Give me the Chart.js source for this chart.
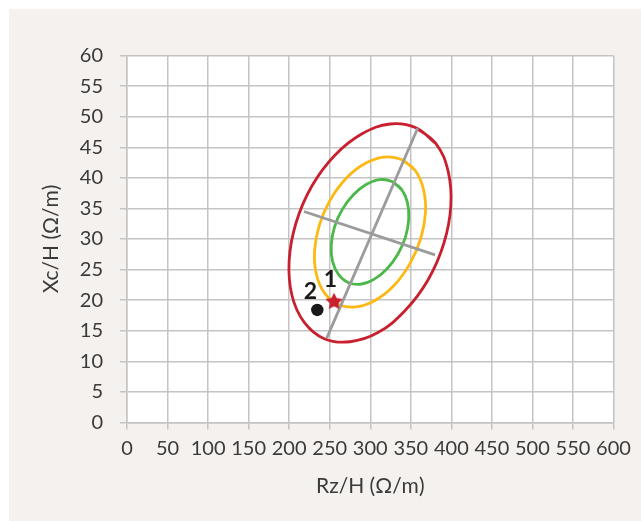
<!DOCTYPE html>
<html>
<head>
<meta charset="utf-8">
<script src="https://cdn.jsdelivr.net/npm/chart.js@4/dist/chart.umd.min.js"></script>
<style>
    html, body { margin: 0; padding: 0; background: #fff; }
    #panel { position: absolute; left: 9px; top: 9px; width: 632px; height: 512px; background: #f4f1ee; }
    canvas { display: block; }
</style>
</head>
<body>
<div id="panel"><canvas id="chart" width="632" height="512"></canvas></div>
<script>
const xTicks = [0, 50, 100, 150, 200, 250, 300, 350, 400, 450, 500, 550, 600];
const yTicks = [0, 5, 10, 15, 20, 25, 30, 35, 40, 45, 50, 55, 60];

const xTitle = 'Rz/H (Ω/m)';
const yTitle = 'Xc/H (Ω/m)';

// outer (red), middle (yellow) and inner (green) ellipses
const redEllipse = [
    [356.1, 48.2], [381.0, 45.6], [396.0, 41.1], [399.4, 35.5], [390.8, 29.3], [371.2, 23.3],
    [343.0, 18.3], [309.5, 14.7], [274.9, 13.2], [243.2, 13.7], [218.4, 16.4], [203.4, 20.8],
    [200.0, 26.5], [208.6, 32.7], [228.2, 38.7], [256.4, 43.7], [289.9, 47.2], [324.5, 48.8],
];
const yellowEllipse = [
    [338.5, 43.0], [355.5, 41.2], [365.7, 38.1], [368.1, 34.3], [362.1, 30.0], [348.6, 25.9],
    [329.3, 22.4], [306.3, 20.0], [282.6, 18.9], [260.9, 19.3], [243.9, 21.1], [233.6, 24.2],
    [231.3, 28.0], [237.3, 32.3], [250.7, 36.4], [270.1, 39.9], [293.0, 42.3], [316.8, 43.4],
];
const greenEllipse = [
    [326.7, 39.4], [338.6, 38.1], [345.8, 36.0], [347.5, 33.3], [343.4, 30.3], [334.0, 27.5],
    [320.5, 25.1], [304.5, 23.4], [287.9, 22.6], [272.7, 22.9], [260.8, 24.2], [253.6, 26.3],
    [251.9, 29.0], [256.0, 32.0], [265.4, 34.8], [278.9, 37.2], [294.9, 38.9], [311.5, 39.7],
];

const majorAxis = [[246.3, 13.8], [358.5, 48.1]];
const minorAxis = [[218.3, 34.5], [379.9, 27.4]];

const pointLabels = ['1', '2'];
const pointX = [255.3, 234.7];
const pointY = [19.9, 18.4];

const RED = '#c8202f';
const GRID = '#c4c4c4';
const TEXT = '#3a3a3a';

function toXY(pairs) {
    return pairs.map(([x, y]) => ({ x, y }));
}

// closed loop: go round once more past the start so the join stays smooth
function closedLoop(pairs) {
    return toXY([...pairs, pairs[0], pairs[1]]);
}

function makeStar(radius, color) {
    const size = Math.ceil(radius * 2 + 2);
    const c = document.createElement('canvas');
    c.width = size;
    c.height = size;
    const ctx = c.getContext('2d');
    ctx.fillStyle = color;
    ctx.beginPath();
    for (let i = 0; i < 10; i++) {
        const r = i % 2 === 0 ? radius : radius * 0.5;
        const a = -Math.PI / 2 + i * Math.PI / 5;
        const px = size / 2 + r * Math.cos(a);
        const py = size / 2 + 1 + r * Math.sin(a);
        if (i === 0) ctx.moveTo(px, py);
        else ctx.lineTo(px, py);
    }
    ctx.closePath();
    ctx.fill();
    return c;
}

function ellipseSet(pairs, color, order) {
    return {
        data: closedLoop(pairs),
        showLine: true,
        borderColor: color,
        borderWidth: 2.8,
        pointRadius: 0,
        tension: 0.4,
        fill: false,
        order,
    };
}

function lineSet(pairs, order) {
    return {
        data: toXY(pairs),
        showLine: true,
        borderColor: '#9b9b9b',
        borderWidth: 2.8,
        pointRadius: 0,
        tension: 0,
        order,
    };
}

const plotBackground = {
    id: 'plotBackground',
    beforeDraw(chart) {
        const { ctx, chartArea: a } = chart;
        ctx.save();
        ctx.fillStyle = '#fff';
        ctx.fillRect(a.left, a.top, a.right - a.left, a.bottom - a.top);
        ctx.restore();
    },
};

const labelOffsets = [[-3.5, -21], [-7, -18]];

const pointLabelPlugin = {
    id: 'pointLabelPlugin',
    afterDatasetsDraw(chart) {
        const { ctx, scales } = chart;
        ctx.save();
        ctx.font = 'bold 23px Lato';
        ctx.fillStyle = '#1a1a1a';
        ctx.textAlign = 'center';
        ctx.textBaseline = 'middle';
        pointLabels.forEach((label, i) => {
            const px = scales.x.getPixelForValue(pointX[i]) + labelOffsets[i][0];
            const py = scales.y.getPixelForValue(pointY[i]) + labelOffsets[i][1];
            ctx.fillText(label, px, py);
        });
        ctx.restore();
    },
};

const tickFont = { family: 'Lato', size: 20 };
const titleFont = { family: 'Lato', size: 21 };

new Chart(document.getElementById('chart').getContext('2d'), {
    type: 'scatter',
    data: {
        datasets: [
            {
                data: [{ x: pointX[0], y: pointY[0] }],
                pointStyle: makeStar(9, RED),
                pointRadius: 9,
                order: 0,
            },
            {
                data: [{ x: pointX[1], y: pointY[1] }],
                pointStyle: 'circle',
                pointRadius: 6.2,
                backgroundColor: '#1a1a1a',
                borderColor: '#1a1a1a',
                borderWidth: 0,
                order: 0,
            },
            lineSet(majorAxis, 1),
            lineSet(minorAxis, 1),
            ellipseSet(greenEllipse, '#4bb849', 2),
            ellipseSet(yellowEllipse, '#fdb913', 3),
            ellipseSet(redEllipse, RED, 4),
        ],
    },
    options: {
        responsive: false,
        animation: false,
        events: [],
        layout: { padding: { top: 46.5, right: 27.5, bottom: 0, left: 0 } },
        plugins: { legend: { display: false }, tooltip: { enabled: false } },
        scales: {
            x: {
                type: 'linear',
                min: 0,
                max: 600,
                afterBuildTicks(axis) {
                    axis.ticks = xTicks.map((value) => ({ value }));
                },
                afterFit(axis) {
                    axis.height = 98.5;
                },
                grid: { color: GRID, lineWidth: 1.5, tickLength: 7, tickColor: GRID },
                border: { color: GRID, width: 1.5 },
                ticks: { font: tickFont, color: TEXT, padding: 7, autoSkip: false, maxRotation: 0 },
                title: { display: true, text: xTitle, font: titleFont, color: TEXT, padding: { top: 0, bottom: 22 } },
            },
            y: {
                type: 'linear',
                min: 0,
                max: 60,
                afterBuildTicks(axis) {
                    axis.ticks = yTicks.map((value) => ({ value }));
                },
                afterFit(axis) {
                    axis.width = 118;
                },
                grid: { color: GRID, lineWidth: 1.5, tickLength: 7, tickColor: GRID },
                border: { color: GRID, width: 1.5 },
                ticks: { font: tickFont, color: TEXT, padding: 17, autoSkip: false },
                title: { display: true, text: yTitle, font: titleFont, color: TEXT, padding: { top: 30, bottom: 0 } },
            },
        },
    },
    plugins: [plotBackground, pointLabelPlugin],
});
</script>
</body>
</html>
